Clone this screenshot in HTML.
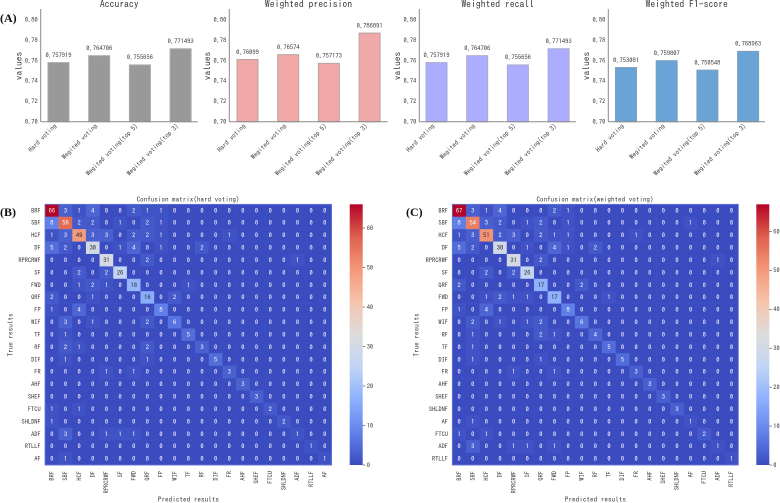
<!DOCTYPE html>
<html lang="en">
<head>
<meta charset="utf-8">
<title>Voting ensemble metrics and confusion matrices</title>
<style>
html,body{margin:0;padding:0;background:#fff;width:780px;height:503px;overflow:hidden}
svg{display:block;filter:blur(.35px)}
text{font-family:"IPAGothic","Liberation Mono",monospace;fill:#383838}
.letter{font-family:"Liberation Serif",serif;font-weight:bold;fill:#111;font-size:12px}
</style>
</head>
<body>
<svg id="chart" xmlns="http://www.w3.org/2000/svg" width="780" height="503" viewBox="0 0 780 503">
<text class="letter" x="0" y="22">(A)</text>
<text class="letter" x="0" y="216">(B)</text>
<text class="letter" x="406" y="216">(C)</text>
</svg>
<script>
const barCategories = ["Hard voting", "Wegited voting", "Wegited voting(top 5)", "Wegited voting(top 3)"];
const barTicks = [0.70, 0.72, 0.74, 0.76, 0.78, 0.80];
const accuracyValues = [0.757919, 0.764706, 0.755656, 0.771493];
const precisionValues = [0.76099, 0.76574, 0.757173, 0.786891];
const recallValues = [0.757919, 0.764706, 0.755656, 0.771493];
const f1Values = [0.753081, 0.759807, 0.750548, 0.768963];
const barTitles = ["Accuracy", "Weighted precision", "Weighted recall", "Weighted F1-score"];

const hardLabels = ["BRF","SBF","HCF","DF","RPRCRWF","SF","FWD","QRF","FP","WIF","TF","RF","DIF","FR","AHF","SHEF","FTCU","SHLDNF","ADF","RTLLF","AF"];
const weightedLabels = ["BRF","SBF","HCF","DF","RPRCRWF","SF","QRF","FWD","FP","WIF","RF","TF","DIF","FR","AHF","SHEF","SHLDNF","AF","FTCU","ADF","RTLLF"];
const colorbarTicks = [0, 10, 20, 30, 40, 50, 60];

const hardMatrix = [
[66,3,1,4,0,0,2,1,1,0,0,0,0,0,0,0,0,0,0,0,0],
[8,56,2,2,0,1,0,2,1,0,0,0,0,0,0,0,0,0,0,0,0],
[1,3,49,3,3,0,2,2,1,0,0,0,0,1,0,0,0,0,0,0,0],
[5,2,0,30,0,1,4,0,1,0,0,2,0,0,0,0,0,0,0,0,0],
[0,0,0,0,31,0,0,2,0,0,0,0,0,0,0,0,0,0,1,0,0],
[0,0,2,0,2,26,0,0,0,0,0,0,0,0,0,0,0,0,0,0,0],
[0,0,1,2,1,0,18,0,0,0,1,0,0,0,0,0,0,0,0,0,0],
[2,0,0,1,0,0,0,16,0,2,0,0,0,0,0,0,0,0,0,0,0],
[1,0,4,0,0,0,0,0,8,0,0,0,0,0,0,0,0,0,0,0,0],
[0,3,0,1,0,0,0,2,0,6,0,0,0,0,0,0,0,0,0,0,0],
[0,1,0,0,0,0,0,0,0,0,5,0,0,0,0,0,0,0,0,0,0],
[0,2,1,0,0,0,0,2,0,0,0,3,0,0,0,0,0,0,0,0,0],
[0,1,0,0,0,0,0,1,0,0,0,0,5,0,0,0,0,0,0,0,0],
[0,0,0,0,1,0,1,0,0,0,0,0,0,3,0,0,0,0,0,0,0],
[0,0,0,0,0,0,0,0,0,0,0,0,0,0,3,0,0,0,0,0,0],
[0,0,0,0,0,0,0,0,0,0,0,0,0,0,0,3,0,0,0,0,0],
[1,0,1,0,0,0,0,0,0,0,0,0,0,0,0,0,2,0,0,0,0],
[1,0,0,0,0,0,0,0,0,0,0,0,0,0,0,0,0,2,0,0,0],
[0,3,0,0,1,1,1,0,0,0,0,0,0,0,0,0,0,0,1,0,0],
[0,0,0,0,0,0,0,0,0,0,0,0,0,0,0,0,0,0,0,1,0],
[0,1,0,0,0,0,0,0,0,0,0,0,0,0,0,0,0,0,0,0,1]
];
const weightedMatrix = [
[67,3,1,4,0,0,0,2,1,0,0,0,0,0,0,0,0,0,0,0,0],
[8,54,3,2,0,1,2,0,1,0,0,0,0,0,0,0,0,1,0,0,0],
[1,3,51,2,3,0,2,1,1,0,0,0,0,1,0,0,0,0,0,0,0],
[5,2,0,30,0,1,0,4,1,0,2,0,0,0,0,0,0,0,0,0,0],
[0,0,0,0,31,0,2,0,0,0,0,0,0,0,0,0,0,0,0,1,0],
[0,0,2,0,2,26,0,0,0,0,0,0,0,0,0,0,0,0,0,0,0],
[2,0,0,0,0,0,17,0,0,2,0,0,0,0,0,0,0,0,0,0,0],
[0,0,1,2,1,1,0,17,0,0,0,1,0,0,0,0,0,0,0,0,0],
[1,0,4,0,0,0,0,0,8,0,0,0,0,0,0,0,0,0,0,0,0],
[0,2,0,1,0,1,2,0,0,6,0,0,0,0,0,0,0,0,0,0,0],
[0,1,0,0,0,0,2,1,0,0,4,0,0,0,0,0,0,0,0,0,0],
[0,1,0,0,0,0,0,0,0,0,0,5,0,0,0,0,0,0,0,0,0],
[0,1,0,0,0,0,1,0,0,0,0,0,5,0,0,0,0,0,0,0,0],
[0,0,0,0,1,0,0,1,0,0,0,0,0,3,0,0,0,0,0,0,0],
[0,0,0,0,0,0,0,0,0,0,0,0,0,0,3,0,0,0,0,0,0],
[0,0,0,0,0,0,0,0,0,0,0,0,0,0,0,3,0,0,0,0,0],
[0,0,0,0,0,0,0,0,0,0,0,0,0,0,0,0,3,0,0,0,0],
[0,1,0,0,0,0,0,0,0,0,0,0,0,0,0,0,0,1,0,0,0],
[1,0,1,0,0,0,0,0,0,0,0,0,0,0,0,0,0,0,2,0,0],
[0,3,0,0,1,1,0,1,0,0,0,0,0,0,0,0,0,0,0,1,0],
[0,0,0,0,0,0,0,0,0,0,0,0,0,0,0,0,0,0,0,0,1]
];

const svg = document.getElementById('chart');
const NS = 'http://www.w3.org/2000/svg';

function mk(tag, attrs, parent) {
  const el = document.createElementNS(NS, tag);
  for (const k in attrs) el.setAttribute(k, attrs[k]);
  (parent || svg).appendChild(el);
  return el;
}
function label(str, attrs) {
  const el = mk('text', attrs);
  el.textContent = str;
  return el;
}

/* ---------- bar panels ---------- */
const barTop = 121.7;
const barScaleY = v => barTop - (v - 0.70) * 1020;
const BAR_SPACING = 40.7;
const BAR_WIDTH = 21;

function barPanel(title, values, left, right, firstCenter, fill, edge) {
  const scaleX = i => firstCenter + i * BAR_SPACING;
  const midX = (left + right) / 2;

  const t = label(title, {x: midX, y: 7.5, 'text-anchor': 'middle', 'font-size': 9.7});
  
  

  values.forEach((v, i) => {
    const r = mk('rect', {
      x: scaleX(i) - BAR_WIDTH / 2, y: barScaleY(v),
      width: BAR_WIDTH, height: barTop - barScaleY(v),
      fill: fill, stroke: edge, 'stroke-width': 1
    });
    
    

    const val = label(String(v), {x: scaleX(i), y: barScaleY(v) - 5.2, 'text-anchor': 'middle', 'font-size': 6.5});
    
    

    const endX = scaleX(i) - 1.5, endY = 126.5;
    const cat = label(barCategories[i], {
      x: endX, y: endY, 'text-anchor': 'end', 'font-size': 6.7,
      transform: 'rotate(-45 ' + endX + ' ' + endY + ')'
    });
    
    
  });

  barTicks.forEach(tick => {
    const tl = label(tick.toFixed(2), {x: left - 3, y: barScaleY(tick) + 2.3, 'text-anchor': 'end', 'font-size': 6.4});
    
    
  });

  const ySpine = mk('line', {x1: left, x2: left, y1: 9, y2: barTop, stroke: '#8a8a8a', 'stroke-width': 1});
  
  

  const xSpine = mk('line', {x1: left, x2: right, y1: barTop, y2: barTop, stroke: '#8a8a8a', 'stroke-width': 1});
  
  

  const yl = label('values', {
    x: left - 21.4, y: 66, 'text-anchor': 'middle', 'dominant-baseline': 'central', 'font-size': 9.5,
    transform: 'rotate(-90 ' + (left - 21.4) + ' 66)'
  });
  
  
}

barPanel(barTitles[0], accuracyValues, 40.7, 197.7, 58.5, '#999999', '#aaaaaa');
barPanel(barTitles[1], precisionValues, 229.3, 387.7, 247.5, '#f0a8a8', '#b9a3a3');
barPanel(barTitles[2], recallValues, 419.3, 576, 436.5, '#adadff', '#a9a9cc');
barPanel(barTitles[3], f1Values, 608.3, 765, 626, '#6aa3d5', '#7f9fbb');

/* ---------- colormap ---------- */
const coolwarm = [[59,76,192],[98,130,234],[141,176,254],[192,212,245],[221,220,220],[245,196,173],[244,152,122],[222,96,77],[180,4,38]];
function cmap(t) {
  t = Math.max(0, Math.min(1, t));
  const p = t * (coolwarm.length - 1), i = Math.min(coolwarm.length - 2, Math.floor(p)), f = p - i;
  return coolwarm[i].map((c, k) => c + (coolwarm[i + 1][k] - c) * f);
}
function luminance(rgb) {
  const c = rgb.map(v => { v /= 255; return v <= 0.03928 ? v / 12.92 : Math.pow((v + 0.055) / 1.055, 2.4); });
  return 0.2126 * c[0] + 0.7152 * c[1] + 0.0722 * c[2];
}
const css = rgb => 'rgb(' + rgb.map(Math.round).join(',') + ')';

/* ---------- heatmaps ---------- */
const defs = mk('defs', {});
const grad = mk('linearGradient', {id: 'cw', x1: 0, y1: 1, x2: 0, y2: 0}, defs);
coolwarm.forEach((c, i) => mk('stop', {offset: i / (coolwarm.length - 1), 'stop-color': css(c)}, grad));

function heatmap(title, matrix, labels, left, right, barLeft, titleX, xTitleX, yTitleX) {
  const top = 204.3, bottom = 465;
  const n = labels.length;
  const w = (right - left) / n, h = (bottom - top) / n;
  const colX = c => left + c * w;
  const rowY = r => top + r * h;
  const vmax = Math.max(...matrix.map(r => Math.max(...r)));

  matrix.forEach((row, r) => row.forEach((v, c) => {
    const col = cmap(v / vmax);
    const cell = mk('rect', {x: colX(c), y: rowY(r), width: w + 0.3, height: h + 0.3, fill: css(col)});
    
    

    const txt = label(String(v), {
      x: colX(c) + w / 2, y: rowY(r) + h / 2 + 2.3, 'text-anchor': 'middle', 'font-size': 6.4
    });
    txt.style.fill = luminance(col) < 0.408 ? '#ffffff' : '#262626';
    
    
  }));

  const frame = mk('rect', {x: left, y: top, width: right - left, height: bottom - top, fill: 'none', stroke: '#6478dc', 'stroke-width': 0.8});
  
  

  labels.forEach((lab, i) => {
    const yl = label(lab, {x: left - 4.3, y: rowY(i) + h / 2 + 2.3, 'text-anchor': 'end', 'font-size': 6.4});
    
    

    const px = colX(i) + w / 2 + 2.2, py = 471;
    const xl = label(lab, {
      x: px, y: py, 'text-anchor': 'end', 'font-size': 6.4,
      transform: 'rotate(-90 ' + px + ' ' + py + ')'
    });
    
    
  });

  const ti = label(title, {x: titleX, y: 202, 'text-anchor': 'middle', 'font-size': 7.1});
  
  

  const xt = label('Predicted results', {x: xTitleX, y: 502, 'text-anchor': 'middle', 'font-size': 7.2});
  
  

  const yt = label('True results', {
    x: yTitleX, y: 335, 'text-anchor': 'middle', 'dominant-baseline': 'central', 'font-size': 7.2,
    transform: 'rotate(-90 ' + yTitleX + ' 335)'
  });
  
  

  const cb = mk('rect', {x: barLeft, y: top, width: 13, height: bottom - top, fill: 'url(#cw)'});
  
  

  const cbY = v => bottom - v / vmax * (bottom - top);
  colorbarTicks.forEach(tv => {
    const tk = mk('line', {x1: barLeft + 13, x2: barLeft + 15.5, y1: cbY(tv), y2: cbY(tv), stroke: '#555', 'stroke-width': 0.7});
    
    

    const tl = label(String(tv), {x: barLeft + 17, y: cbY(tv) + 2.3, 'font-size': 6.4});
    
    
  });
}

heatmap('Confusion matrix(hard voting)', hardMatrix, hardLabels, 45, 331.6, 349.7, 188, 188.4, 10.7);
heatmap('Confusion matrix(weighted voting)', weightedMatrix, weightedLabels, 452.3, 738.3, 756.3, 595, 595.4, 416.7);
</script>
</body>
</html>
